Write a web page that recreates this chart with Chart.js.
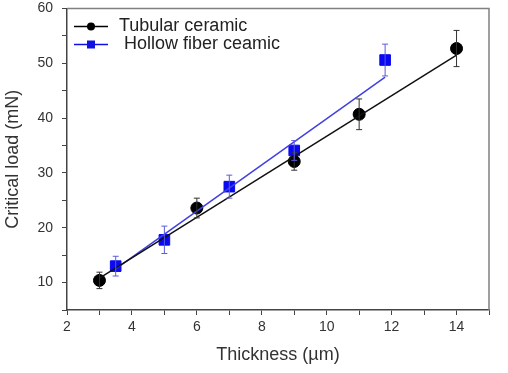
<!DOCTYPE html>
<html>
<head>
<meta charset="utf-8">
<script src="https://cdn.jsdelivr.net/npm/chart.js@4"></script>
<style>
  html, body { margin: 0; padding: 0; background: #fff; }
  #wrap { width: 508px; height: 373px; }
</style>
</head>
<body>
<div id="wrap"><canvas id="chart" width="508" height="373"></canvas></div>
<script>
// measured points
const tubularX = [3, 6, 9, 11, 14];
const tubularY = [10.4, 23.6, 32.1, 40.7, 52.7];
const tubularErr = [1.5, 1.8, 1.6, 2.8, 3.3];

const hollowX = [3.5, 5, 7, 9, 11.8];
const hollowY = [13.0, 17.8, 27.5, 34.1, 50.6];
const hollowErr = [1.8, 2.5, 2.1, 1.8, 2.9];

// linear fit lines (end points)
const tubularFitX = [3, 14];
const tubularFitY = [10.8, 51.5];
const hollowFitX = [3.5, 11.8];
const hollowFitY = [12.5, 47.5];

const seriesNames = ['Tubular ceramic', ' Hollow fiber ceamic'];
const xTicks = [2, 4, 6, 8, 10, 12, 14];
const yTicks = [10, 20, 30, 40, 50, 60];

const toPts = (xs, ys) => xs.map((x, i) => ({ x, y: ys[i] }));
const FONT = '"Liberation Sans", Arial, sans-serif';

// Error bars drawn from the data through the scales
const errorBars = {
  id: 'errorBars',
  afterDatasetsDraw(chart) {
    const { ctx, scales: { x, y } } = chart;
    const sets = [
      { xs: tubularX, ys: tubularY, err: tubularErr, color: '#333' },
      { xs: hollowX, ys: hollowY, err: hollowErr, color: '#5a5ae0' }
    ];
    ctx.save();
    ctx.lineWidth = 1;
    sets.forEach(s => {
      ctx.strokeStyle = s.color;
      s.xs.forEach((xv, i) => {
        const px = x.getPixelForValue(xv);
        const top = y.getPixelForValue(s.ys[i] + s.err[i]);
        const bot = y.getPixelForValue(s.ys[i] - s.err[i]);
        ctx.beginPath();
        ctx.moveTo(px, top); ctx.lineTo(px, bot);
        ctx.moveTo(px - 3, top); ctx.lineTo(px + 3, top);
        ctx.moveTo(px - 3, bot); ctx.lineTo(px + 3, bot);
        ctx.stroke();
      });
    });
    ctx.restore();
  }
};

// Frame on top/right plus legend inside the plot
const frameLegend = {
  id: 'frameLegend',
  afterDraw(chart) {
    const { ctx, chartArea: a } = chart;
    ctx.save();
    ctx.strokeStyle = '#808080';
    ctx.lineWidth = 1.5;
    ctx.beginPath();
    ctx.moveTo(a.left, a.top); ctx.lineTo(a.right, a.top); ctx.lineTo(a.right, a.bottom);
    ctx.stroke();

    const items = [
      { color: '#000', marker: 'circle', y: a.top + 18 },
      { color: '#1010e0', marker: 'square', y: a.top + 36 }
    ];
    items.forEach((it, i) => {
      ctx.strokeStyle = it.color;
      ctx.lineWidth = 1.5;
      ctx.beginPath();
      ctx.moveTo(a.left + 7, it.y); ctx.lineTo(a.left + 41, it.y);
      ctx.stroke();
      ctx.fillStyle = it.color;
      if (it.marker === 'circle') {
        ctx.beginPath();
        ctx.arc(a.left + 24, it.y, 4, 0, Math.PI * 2);
        ctx.fill();
      } else {
        ctx.fillRect(a.left + 20, it.y - 4, 8, 8);
      }
      ctx.fillStyle = '#222';
      ctx.font = '18px ' + FONT;
      ctx.textBaseline = 'middle';
      ctx.fillText(seriesNames[i], a.left + 52, it.y);
    });
    ctx.restore();
  }
};

new Chart(document.getElementById('chart'), {
  type: 'scatter',
  data: {
    datasets: [
      {
        data: toPts(tubularFitX, tubularFitY),
        showLine: true, borderColor: '#111', borderWidth: 1.5,
        pointRadius: 0
      },
      {
        data: toPts(hollowFitX, hollowFitY),
        showLine: true, borderColor: '#4040e0', borderWidth: 1.5,
        pointRadius: 0
      },
      {
        label: seriesNames[0],
        data: toPts(tubularX, tubularY),
        pointStyle: 'circle', pointRadius: 6,
        backgroundColor: '#000', borderColor: '#000'
      },
      {
        label: seriesNames[1],
        data: toPts(hollowX, hollowY),
        pointStyle: 'rect', pointRadius: 7.5,
        backgroundColor: '#0a0af0', borderColor: '#0a0af0'
      }
    ]
  },
  options: {
    responsive: false,
    animation: false,
    layout: { padding: { top: 8, right: 19, left: 0, bottom: 0 } },
    plugins: { legend: { display: false }, tooltip: { enabled: false } },
    scales: {
      x: {
        type: 'linear', min: 2, max: 15,
        border: { color: '#444', width: 1.5 },
        grid: { drawOnChartArea: false, tickLength: 5, color: '#444' },
        ticks: {
          stepSize: 1, color: '#333', padding: 4,
          font: { size: 14, family: FONT },
          callback: v => xTicks.includes(v) ? String(v) : ''
        },
        title: {
          display: true, text: 'Thickness (µm)', color: '#333',
          font: { size: 18, family: FONT },
          padding: { top: 0, bottom: 7 }
        },
        afterFit: s => { s.height = 63; s.paddingLeft = 0; s.paddingRight = 0; }
      },
      y: {
        min: 5, max: 60,
        border: { color: '#444', width: 1.5 },
        grid: { drawOnChartArea: false, tickLength: 5, color: '#444' },
        ticks: {
          stepSize: 5, color: '#333', padding: 9,
          font: { size: 14, family: FONT },
          callback: v => yTicks.includes(v) ? String(v) : ''
        },
        title: {
          display: true, text: 'Critical load (mN)', color: '#333',
          font: { size: 18, family: FONT },
          padding: { top: 2, bottom: 0 }
        },
        afterFit: s => { s.width = 67; s.paddingTop = 0; s.paddingBottom = 0; }
      }
    }
  },
  plugins: [errorBars, frameLegend]
});
</script>
</body>
</html>
